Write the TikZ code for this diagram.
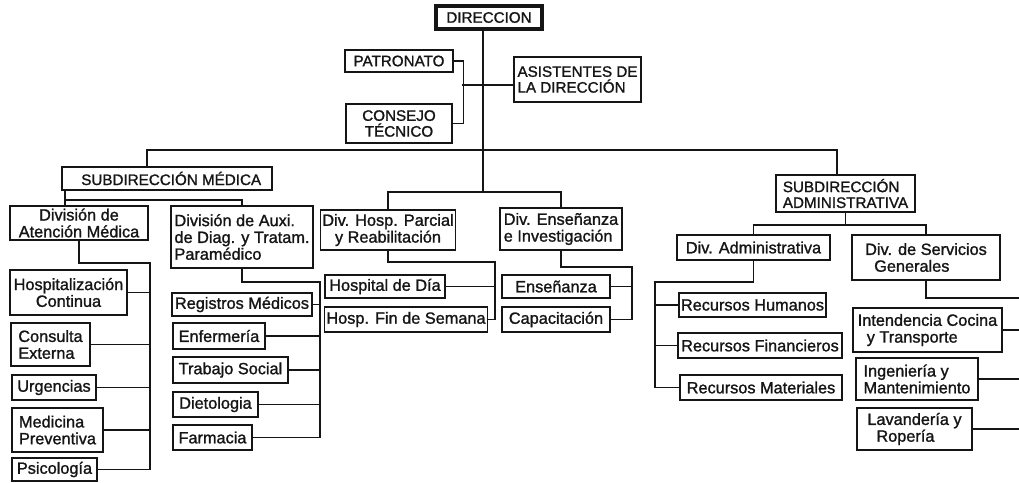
\documentclass[tikz,border=0pt]{standalone}
\usepackage{fontspec}
\setmainfont{Liberation Sans}[BoldFont={Liberation Sans},BoldFeatures={FakeBold=1.3}]
\definecolor{tinta}{HTML}{151515}
\newcommand{\txt}{\fontsize{16.3}{16.8}\selectfont\bfseries}
\newcommand{\txtmay}{\fontsize{15.2}{15.8}\selectfont\bfseries}
\tikzset{caja/.style={draw=tinta,line width=1.5pt,inner sep=2pt,font=\txt,text=tinta},
  cajag/.style={caja,line width=2.6pt,font=\txtmay},
  linea/.style={tinta,line width=1.1pt}}

\begin{document}
\begin{tikzpicture}[x=1pt,y=-1pt]
\useasboundingbox (0,0) rectangle (1019,482);
\node[cajag,line width=3.6pt,minimum width=106,minimum height=23] (dir) at (489,17.5) {DIRECCION};
\node[cajag,minimum width=108,minimum height=22] (pat) at (399,61) {PATRONATO};
\node[cajag,line width=2pt,align=center,minimum width=106,minimum height=39] (cons) at (399,123.5) {CONSEJO\\TÉCNICO};
\node[cajag,align=left,minimum width=127,minimum height=45] (asis) at (577.5,79.5) {ASISTENTES DE\\LA DIRECCIÓN};
\node[cajag,minimum width=210,minimum height=23] (sm) at (167,178.5) {\ \ SUBDIRECCIÓN MÉDICA};
\node[cajag,align=left,minimum width=139,minimum height=37] (sa) at (845.5,193.5) {SUBDIRECCIÓN\\ADMINISTRATIVA};
% division medica
\node[caja,align=center,minimum width=138,minimum height=34] (atn) at (79,223) {División de\\Atención Médica};
\node[caja,align=left,minimum width=142,minimum height=62] (aux) at (242,237) {División de Auxi.\\de Diag. y Tratam.\\Paramédico};
\node[caja,align=center,minimum width=128,minimum height=40] (hosp) at (388,230) {Div. Hosp. Parcial\\y Reabilitación};
\node[caja,align=left,minimum width=122,minimum height=42] (ens) at (561,229) {Div. Enseñanza\\e Investigación};
\node[caja,align=center,minimum width=117,minimum height=45] (hc) at (68.5,292.5) {Hospitalización\\Continua};
\node[caja,align=left,minimum width=79,minimum height=43] (ce) at (50.5,344.5) {Consulta\\Externa};
\node[caja,minimum width=84,minimum height=25] (urg) at (54,387.5) {Urgencias};
\node[caja,align=left,minimum width=91,minimum height=44] (mp) at (57.5,430) {Medicina\\Preventiva};
\node[caja,minimum width=85,minimum height=23] (psi) at (54.5,469.5) {Psicología};
\node[caja,minimum width=140,minimum height=23] (reg) at (242,304.5) {Registros Médicos};
\node[caja,minimum width=92,minimum height=26] (enf) at (219,336) {Enfermería};
\node[caja,minimum width=115,minimum height=26] (ts) at (230.5,370) {Trabajo Social};
\node[caja,minimum width=85,minimum height=25] (diet) at (215.5,404.5) {Dietologia};
\node[caja,minimum width=79,minimum height=25] (farm) at (212.5,437.5) {Farmacia};
\node[caja,minimum width=120,minimum height=23] (hdia) at (385,286.5) {Hospital de Día};
\node[caja,minimum width=162,minimum height=25] (hfin) at (406,319.5) {Hosp. Fin de Semana};
\node[caja,minimum width=108,minimum height=23] (ensz) at (556,286.5) {Enseñanza};
\node[caja,minimum width=108,minimum height=25] (capa) at (556,319.5) {Capacitación};
% division administrativa
\node[caja,minimum width=153,minimum height=25] (dadm) at (753.5,247.5) {Div. Administrativa};
\node[caja,align=left,minimum width=148,minimum height=45] (dsg) at (926,257.5) {Div. de Servicios\\\ \ Generales};
\node[caja,minimum width=145,minimum height=24] (rh) at (752.5,305) {Recursos Humanos};
\node[caja,minimum width=164,minimum height=25] (rf) at (760,345.5) {Recursos Financieros};
\node[caja,minimum width=162,minimum height=25] (rm) at (761,387.5) {Recursos Materiales};
\node[caja,align=left,minimum width=149,minimum height=44] (int) at (927.5,330) {Intendencia Cocina\\\ \ y Transporte};
\node[caja,align=left,minimum width=122,minimum height=42] (ing) at (917,379) {Ingeniería y\\Mantenimiento};
\node[caja,align=left,minimum width=115,minimum height=42] (lav) at (914.5,429) {Lavandería y\\\ \ Ropería};
\coordinate (tronco) at (483,192);\coordinate (junta) at (462,85);
\coordinate (hl) at (147,150);\coordinate (hr) at (837,150);
\coordinate (smb) at (65,200);\coordinate (sab) at (0,225);
\coordinate (atnb) at (150,263);\coordinate (auxb) at (320,282);
\coordinate (hospb) at (495,262);\coordinate (ensb) at (632,267);
\coordinate (dadmb) at (655,282);\coordinate (dsgb) at (1019,298);
\draw[linea] (dir.south -| tronco) -- (tronco);
\draw[linea] (pat.east) -- ++(9,0) |- (cons.east);
\draw[linea] (junta) -- (junta -| asis.west);
\draw[linea] (sm.north -| hl) -- (hl) -- (hr) -- (sa.north -| hr);
\draw[linea] (hosp.north) |- (tronco) -| (ens.north);
\draw[linea] (sm.south -| smb) -- (atn.north -| smb);
\draw[linea] (smb) -| (aux.north);
\draw[linea] (sa.south) -- (sa.south |- sab);
\draw[linea] (dadm.north) |- (sa.south |- sab) -| (dsg.north);
\draw[linea] (atn.south) |- (atnb) -- (atnb |- psi.east);
\foreach \n in {hc,ce,urg,mp,psi} \draw[linea] (\n.east) -- (\n.east -| atnb);
\draw[linea] (aux.south) |- (auxb) -- (auxb |- farm.east);
\foreach \n in {reg,enf,ts,diet,farm} \draw[linea] (\n.east) -- (\n.east -| auxb);
\draw[linea] (hosp.south) |- (hospb) -- (hospb |- hfin.east);
\foreach \n in {hdia,hfin} \draw[linea] (\n.east) -- (\n.east -| hospb);
\draw[linea] (ens.south) |- (ensb) -- (ensb |- capa.east);
\foreach \n in {ensz,capa} \draw[linea] (\n.east) -- (\n.east -| ensb);
\draw[linea] (dadm.south) |- (dadmb) -- (dadmb |- rm.west);
\foreach \n in {rh,rf,rm} \draw[linea] (\n.west) -- (\n.west -| dadmb);
\draw[linea] (dsg.south) |- (dsgb);
\foreach \n in {int,ing,lav} \draw[linea] (\n.east) -- (\n.east -| dsgb);
\end{tikzpicture}
\end{document}
